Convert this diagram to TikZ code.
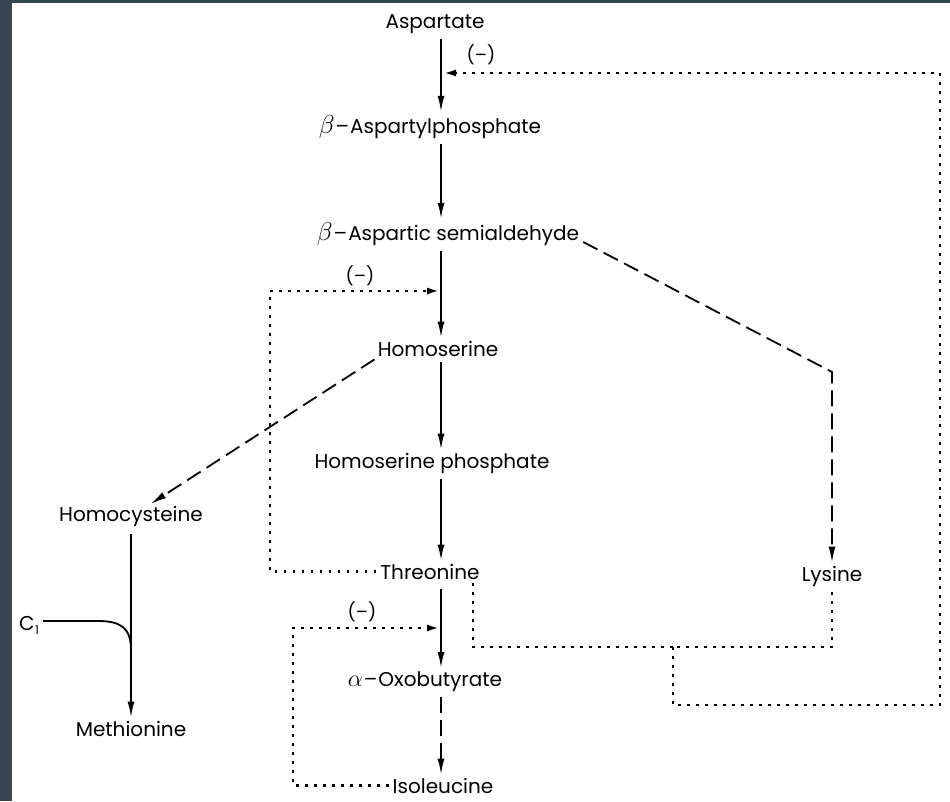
\documentclass[tikz,border=0pt]{standalone}
\usepackage{fontspec}
\setmainfont{Poppins}
\usetikzlibrary{arrows.meta,calc}
\definecolor{bordercol}{HTML}{37474F}
\newcommand{\bt}{\raisebox{0pt}{\scalebox{1.25}{$\beta$}}\kern1pt–\kern1pt}
\newcommand{\al}{\scalebox{1.15}{$\alpha$}\kern1pt–\kern1pt}
\begin{document}
\begin{tikzpicture}[x=1pt,y=-1pt,
  lbl/.style={anchor=base,inner sep=0pt,font=\fontsize{20}{24}\selectfont},
  minus/.style={anchor=center,inner sep=0pt,font=\fontsize{18}{20}\selectfont},
  main/.style={line width=1.8pt,-{Latex[length=16pt,width=7pt]}},
  plain/.style={line width=1.8pt},
  dasharr/.style={line width=1.8pt,dash pattern=on 16pt off 7pt,-{Latex[length=16pt,width=7pt]}},
  dotline/.style={line width=2.6pt,dash pattern=on 2.6pt off 6.4pt},
  inhib/.style={dotline,-{Latex[length=13pt,width=7pt]}}]
\fill[bordercol] (0,0) rectangle (950,801);
\fill[white] (12,3) rectangle (950,801);
\useasboundingbox (0,0) rectangle (950,801);
\coordinate (axis) at (441,0);
% nodes
\node[lbl] (asp) at (435,28) {Aspartate};
\node[lbl] (bap) at (430,133) {\bt Aspartylphosphate};
\node[lbl] (bas) at (448,240) {\bt Aspartic semialdehyde};
\node[lbl] (hom) at (438,356) {Homoserine};
\node[lbl] (hph) at (432,468) {Homoserine phosphate};
\node[lbl] (thr) at (430,579) {Threonine};
\node[lbl] (lys) at (832,581) {Lysine};
\node[lbl] (oxo) at (425,686) {\al Oxobutyrate};
\node[lbl] (ile) at (443,793) {Isoleucine};
\node[lbl] (hcy) at (131,521) {Homocysteine};
\node[lbl] (met) at (131,736) {Methionine};
\node[lbl] (c1) at (29,630) {C\kern0.5pt\raisebox{-0.4ex}{\fontsize{12}{13}\selectfont 1}};
\node[minus] (m1) at (481,55) {(–)};
\node[minus] (m2) at (360,276) {(–)};
\node[minus] (m3) at (362,612) {(–)};
% main pathway
\draw[main,shorten <=6pt,shorten >=3pt] (asp.south -| axis) -- (bap.north -| axis);
\draw[main,shorten <=6pt,shorten >=3pt] (bap.south -| axis) -- (bas.north -| axis);
\draw[main,shorten <=6pt,shorten >=3pt] (bas.south -| axis) -- (hom.north -| axis);
\draw[main,shorten <=6pt,shorten >=3pt] (hom.south -| axis) -- (hph.north -| axis);
\draw[main,shorten <=6pt,shorten >=3pt] (hph.south -| axis) -- (thr.north -| axis);
\draw[main,shorten <=10pt,shorten >=3pt] (thr.south -| axis) -- (oxo.north -| axis);
\draw[dasharr,shorten <=6pt,shorten >=3pt] (oxo.south -| axis) -- (ile.north -| axis);
% branches
\coordinate (lyscorner) at (832,372);
\draw[dasharr,shorten >=3pt] ([xshift=4pt,yshift=-2pt]bas.base east) -- (lyscorner) -- (lys.north);
\draw[dasharr,shorten >=3pt] ([xshift=-3pt,yshift=-3pt]hom.south west) -- ($(hcy.north)+(17,0)$);
\draw[main,shorten <=8pt,shorten >=3pt] (hcy.south) -- (met.north);
\coordinate (c1bend) at (98,621);
\draw[plain] (c1.east |- c1bend) ++(4,0) -- (c1bend) .. controls (121,621) and (131,628) .. (131,650);
% feedback inhibition
\coordinate (j1) at (673,647);
\coordinate (r1) at (940,705);
\coordinate (t1) at (443,73);
\coordinate (c2) at (270,291);
\coordinate (t2) at (440,291);
\coordinate (c3) at (293,628);
\coordinate (t3) at (440,628);
\draw[dotline] ([xshift=-7pt,yshift=-4pt]thr.south east) |- (j1);
\draw[dotline] ([yshift=-6pt]lys.south) |- (j1);
\draw[inhib] (j1) |- (r1) |- (t1);
\draw[inhib] ([xshift=-4pt]thr.west) -| (c2) -- (t2);
\draw[inhib] ([xshift=-4pt]ile.west) -| (c3) -- (t3);
\end{tikzpicture}
\end{document}
